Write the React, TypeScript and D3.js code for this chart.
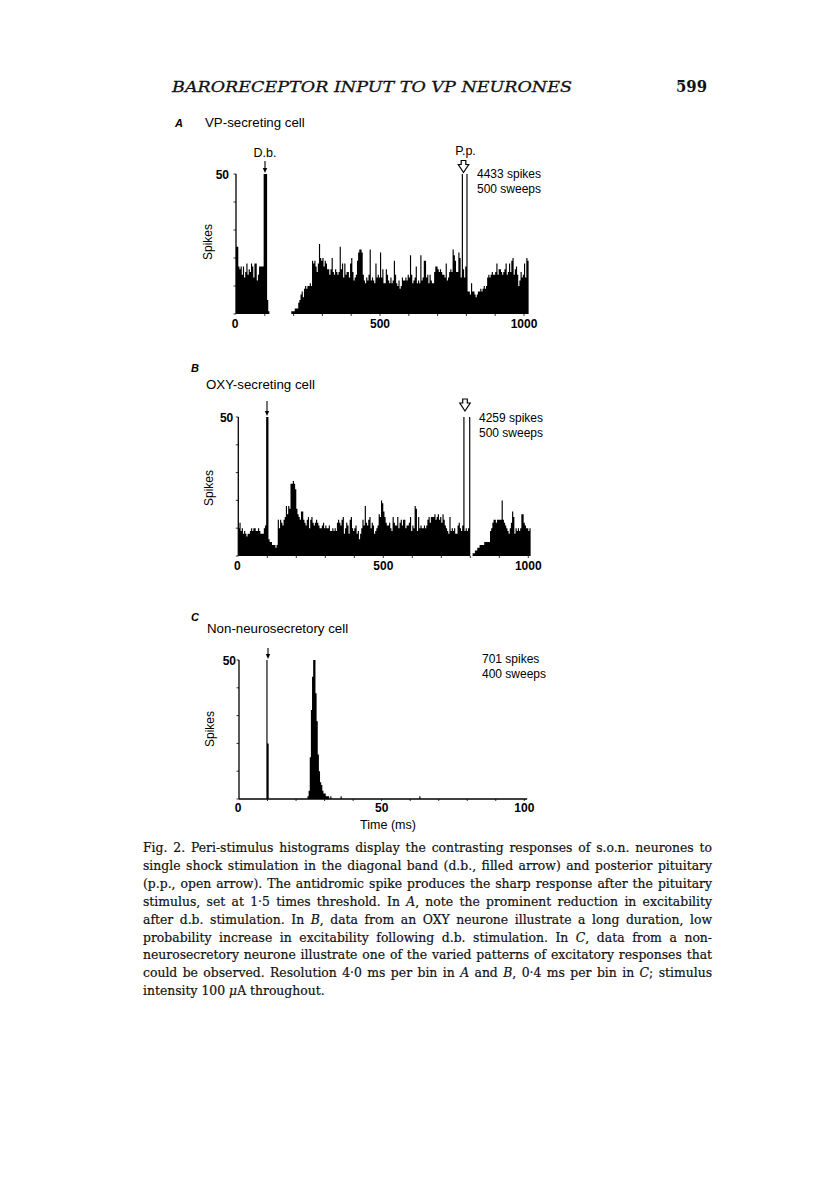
import React, { useLayoutEffect, useRef } from "react";
import * as d3 from "d3";

// ---------------- DATA ----------------
// Panel A: VP-secreting cell, 4 ms bins (spikes per bin)
const vpCounts: number[] = [
  24, 24, 17, 16, 17, 14, 17, 13, 15, 18, 14, 16, 15, 18, 17, 13, 18, 18, 12, 14, 17, 17, 17, 17,
  50, 50, 50, 5, 1,
  0, 0, 0, 0, 0, 0, 0, 0, 0, 0, 0, 0, 0, 0, 0, 0, 0, 0, 0,
  1, 1, 1, 2, 2,
  2, 4, 5,
  7, 8, 6,
  9, 10, 9, 10,
  10, 11, 10, 19,
  18, 19, 17, 15, 18, 25,
  20, 19, 20, 17, 19, 18, 16,
  16, 14, 16, 20, 15, 14, 16,
  15, 14, 15, 24, 16, 18, 13,
  18, 14, 15, 15, 13, 18, 20,
  15, 12, 13, 14, 19, 22, 23,
  23, 22, 14, 12, 11, 13, 12,
  14, 23, 12, 13, 12, 11, 18,
  13, 14, 13, 22, 13, 16, 11,
  11, 16, 14, 12, 11, 13, 11,
  12, 19, 14, 11, 10, 12, 9,
  10, 13, 12, 12, 13, 12, 14,
  13, 21, 14, 11, 12, 13, 17,
  11, 12, 11, 21, 12, 13, 19,
  19, 13, 14, 11, 14, 12, 11,
  11, 15, 17, 17, 16, 15, 16,
  15, 14, 14, 13, 18, 12, 13,
  15, 16, 15, 23, 21, 19,
  15, 15, 22, 20, 13,
  50,
  16, 13, 17,
  50,
  8, 8, 7, 11, 8, 8,
  7, 6, 7, 8, 8, 9, 8,
  9, 10, 9, 10, 13, 14, 13,
  14, 15, 14, 14, 15, 18, 14,
  16, 16, 15, 14, 15, 16, 18,
  14, 15, 18, 15, 19, 20, 14,
  16, 17, 14, 10, 12, 15, 13,
  14, 18, 13, 20, 19,
];

// Panel B: OXY-secreting cell, 4 ms bins
const oxyCounts: number[] = [
  10, 12, 9, 10, 8, 9, 8, 7, 8, 8, 9, 10, 9, 10, 10, 9, 9, 10, 9, 8, 8, 8, 10, 11,
  50, 50,
  6,
  5, 5, 4, 4, 4, 3, 4,
  13, 10, 13, 12, 11, 13, 14,
  18, 15, 18, 17, 26, 26, 27,
  26, 24, 17, 15, 14, 13, 16,
  16, 13, 12, 11, 13, 14, 10,
  13, 14, 12, 11, 12, 13, 12,
  11, 10, 10, 11, 12, 10, 11,
  10, 10, 11, 9, 9, 10, 9,
  10, 9, 12, 13, 12, 11, 13,
  14, 8, 10, 12, 11, 8, 13,
  14, 10, 9, 10, 11, 8, 9,
  6, 8, 10, 13, 11, 18, 12,
  11, 13, 14, 10, 12, 11, 8,
  9, 10, 11, 15, 14, 20, 19,
  16, 14, 12, 11, 11, 12, 10,
  9, 14, 12, 11, 11, 14, 10,
  12, 13, 11, 13, 13, 10, 11,
  11, 12, 14, 9, 11, 10, 18,
  17, 9, 14, 10, 11, 10, 10,
  11, 10, 11, 13, 14, 12, 14,
  14, 14, 15, 13, 14, 15, 13,
  14, 12, 15, 13, 11, 10, 9,
  8, 14, 9, 10, 9, 10, 8,
  8, 11, 12, 10, 9, 11,
  50,
  9, 10, 9, 10,
  50,
  0, 0, 1,
  1, 2, 2, 3, 3, 4, 4,
  4, 4, 5, 5, 5, 5, 5,
  9, 10, 12, 13, 13, 12, 13,
  13, 13, 13, 20, 13, 12, 11,
  10, 9, 8, 10, 12, 16, 14,
  8, 10, 9, 10, 9, 10, 15,
  15, 12, 11, 10, 10, 9, 10,
];

// Panel C: non-neurosecretory cell, 0.4 ms bins (only non-empty bins listed)
const nonNsBinIndex: number[] = [24, 25, 60, 61, 62, 63, 64, 65, 66, 67, 68, 69, 70, 71, 72, 73, 74, 75, 76, 77, 78, 80, 89, 158];
const nonNsCounts: number[] = [50, 20, 1, 3, 15, 32, 44, 50, 50, 38, 28, 16, 10, 6, 5, 3, 2, 2, 1, 1, 1, 1, 1, 1];
const nonNsBinTotal = 250;

const xTickLabelsAB = [0, 500, 1000];
const xTickLabelsC = [0, 50, 100];

const captionLines: string[] = [
  "Fig. 2. Peri-stimulus histograms display the contrasting responses of s.o.n. neurones to",
  "single shock stimulation in the diagonal band (d.b., filled arrow) and posterior pituitary",
  "(p.p., open arrow). The antidromic spike produces the sharp response after the pituitary",
  "stimulus, set at 1·5 times threshold. In *A*, note the prominent reduction in excitability",
  "after d.b. stimulation. In *B*, data from an OXY neurone illustrate a long duration, low",
  "probability increase in excitability following d.b. stimulation. In *C*, data from a non-",
  "neurosecretory neurone illustrate one of the varied patterns of excitatory responses that",
  "could be observed. Resolution 4·0 ms per bin in *A* and *B*, 0·4 ms per bin in *C*; stimulus",
  "intensity 100 *μ*A throughout.",
];

// ---------------- LAYOUT ----------------
const SANS = "'Liberation Sans', Arial, Helvetica, sans-serif";
const SERIF = "'DejaVu Serif', 'Liberation Serif', serif";

type PanelCfg = {
  letter: string;
  letterX: number;
  letterY: number;
  title: string;
  titleX: number;
  titleY: number;
  counts: number[];
  binW: number;
  xMaxDomain: number;
  x0: number;
  x1: number;
  yTop: number;
  yBase: number;
  tickLabels: number[];
  minorStep: number;
  minorMax: number;
  labelY: number;
  fiftyDx: number;
  spikesX: number;
  spikesY: number;
  dbX: number;
  dbTop: number;
  dbLabel: boolean;
  ppX?: number;
  ppTop?: number;
  ppLabel?: boolean;
  stats: [string, string];
  statsX: number;
  statsY: number;
  axisLine?: number;
  timeLabel?: boolean;
};

function buildC(): number[] {
  const arr = new Array(nonNsBinTotal).fill(0);
  nonNsBinIndex.forEach((b, i) => {
    arr[b] = nonNsCounts[i];
  });
  return arr;
}

const panels: PanelCfg[] = [
  {
    letter: "A", letterX: 175, letterY: 127,
    title: "VP-secreting cell", titleX: 205, titleY: 127,
    counts: vpCounts, binW: 4, xMaxDomain: 1000,
    x0: 236, x1: 524, yTop: 174, yBase: 314,
    tickLabels: xTickLabelsAB, minorStep: 100, minorMax: 1000,
    labelY: 328, fiftyDx: 7, spikesX: 212, spikesY: 242,
    dbX: 265, dbTop: 161, dbLabel: true,
    ppX: 463.5, ppTop: 160.5, ppLabel: true,
    stats: ["4433 spikes", "500 sweeps"], statsX: 477, statsY: 178,
  },
  {
    letter: "B", letterX: 191, letterY: 372,
    title: "OXY-secreting cell", titleX: 206, titleY: 389,
    counts: oxyCounts, binW: 4, xMaxDomain: 1000,
    x0: 238.3, x1: 528.3, yTop: 417, yBase: 556,
    tickLabels: xTickLabelsAB, minorStep: 100, minorMax: 1000,
    labelY: 570, fiftyDx: 5, spikesX: 213, spikesY: 488,
    dbX: 267, dbTop: 401, dbLabel: false,
    ppX: 465, ppTop: 399, ppLabel: false,
    stats: ["4259 spikes", "500 sweeps"], statsX: 479, statsY: 422,
  },
  {
    letter: "C", letterX: 191, letterY: 621,
    title: "Non-neurosecretory cell", titleX: 207, titleY: 633,
    counts: buildC(), binW: 0.4, xMaxDomain: 100,
    x0: 239, x1: 524.3, yTop: 660, yBase: 799,
    tickLabels: xTickLabelsC, minorStep: 10, minorMax: 100,
    labelY: 812, fiftyDx: 3, spikesX: 214, spikesY: 729,
    dbX: 268, dbTop: 648, dbLabel: false,
    stats: ["701 spikes", "400 sweeps"], statsX: 482, statsY: 663,
    axisLine: 101, timeLabel: true,
  },
];

function FilledArrow({ x, top, bottom }: { x: number; top: number; bottom: number }) {
  return (
    <g>
      <line x1={x} x2={x} y1={top} y2={bottom - 4} stroke="#000" strokeWidth={1.1} />
      <path d={`M${x - 2.2},${bottom - 5} L${x + 2.2},${bottom - 5} L${x},${bottom} Z`} fill="#000" />
    </g>
  );
}

function OpenArrow({ x, top }: { x: number; top: number }) {
  const d = `M${x - 2.3},${top} L${x + 2.3},${top} L${x + 2.3},${top + 4} L${x + 5.2},${top + 4} L${x},${top + 12} L${x - 5.2},${top + 4} L${x - 2.3},${top + 4} Z`;
  return <path d={d} fill="#fff" stroke="#000" strokeWidth={1.2} strokeLinejoin="miter" />;
}

function Panel({ cfg }: { cfg: PanelCfg }) {
  const x = d3.scaleLinear().domain([0, cfg.xMaxDomain]).range([cfg.x0, cfg.x1]);
  const y = d3.scaleLinear().domain([0, 50]).range([cfg.yBase, cfg.yTop]);
  const pts = cfg.counts.map((v, i) => ({ t: i * cfg.binW, v: Math.min(v, 50) }));
  pts.push({ t: cfg.counts.length * cfg.binW, v: pts[pts.length - 1].v });
  const area = d3
    .area<{ t: number; v: number }>()
    .x((d) => x(d.t))
    .y0(y(0))
    .y1((d) => y(d.v))
    .curve(d3.curveStepAfter);
  const yTicks = y.ticks(5);
  const minor = d3.range(cfg.minorStep, cfg.minorMax + 0.001, cfg.minorStep);

  return (
    <g>
      <text x={cfg.letterX} y={cfg.letterY} fontFamily={SANS} fontStyle="italic" fontWeight="bold" fontSize={11}>
        {cfg.letter}
      </text>
      <text x={cfg.titleX} y={cfg.titleY} fontFamily={SANS} fontSize={13.3}>
        {cfg.title}
      </text>

      {/* histogram */}
      <path d={area(pts) || ""} fill="#000" />

      {/* x axis line for panel C */}
      {cfg.axisLine !== undefined && (
        <line x1={x(0)} x2={x(cfg.axisLine)} y1={y(0)} y2={y(0)} stroke="#000" strokeWidth={1.3} />
      )}
      {/* minor x ticks */}
      {minor.map((m) => (
        <line key={"mx" + m} x1={x(m)} x2={x(m)} y1={y(0)} y2={y(0) + 2} stroke="#000" strokeWidth={0.8} />
      ))}

      {/* y axis */}
      <line x1={x(0)} x2={x(0)} y1={y(50)} y2={y(0)} stroke="#000" strokeWidth={1.3} />
      {yTicks.map((t) => (
        <line key={"yt" + t} x1={x(0) - 2.5} x2={x(0)} y1={y(t)} y2={y(t)} stroke="#000" strokeWidth={0.8} />
      ))}
      <text x={x(0) - cfg.fiftyDx} y={y(50) + 5} textAnchor="end" fontFamily={SANS} fontSize={12} fontWeight="bold">
        50
      </text>

      {/* x tick labels */}
      {cfg.tickLabels.map((t) => (
        <text key={"xl" + t} x={x(t) - (t === 0 ? 1 : 0)} y={cfg.labelY} textAnchor="middle" fontFamily={SANS} fontSize={12} fontWeight="bold">
          {t}
        </text>
      ))}

      {/* y label */}
      <text
        transform={`translate(${cfg.spikesX},${cfg.spikesY}) rotate(-90)`}
        textAnchor="middle"
        fontFamily={SANS}
        fontSize={12}
      >
        Spikes
      </text>

      {cfg.timeLabel && (
        <text x={388} y={829} textAnchor="middle" fontFamily={SANS} fontSize={12.5}>
          Time (ms)
        </text>
      )}

      {/* stimulus markers */}
      {cfg.dbLabel && (
        <text x={cfg.dbX} y={157} textAnchor="middle" fontFamily={SANS} fontSize={12.5}>
          D.b.
        </text>
      )}
      <FilledArrow x={cfg.dbX} top={cfg.dbTop} bottom={y(50) - 1} />
      {cfg.ppX !== undefined && cfg.ppTop !== undefined && (
        <>
          {cfg.ppLabel && (
            <text x={cfg.ppX + 2} y={154.5} textAnchor="middle" fontFamily={SANS} fontSize={12.5}>
              P.p.
            </text>
          )}
          <OpenArrow x={cfg.ppX} top={cfg.ppTop} />
        </>
      )}

      {/* stats */}
      <text x={cfg.statsX} y={cfg.statsY} fontFamily={SANS} fontSize={12}>
        {cfg.stats[0]}
      </text>
      <text x={cfg.statsX} y={cfg.statsY + 14.5} fontFamily={SANS} fontSize={12}>
        {cfg.stats[1]}
      </text>
    </g>
  );
}

function CaptionLine({ line, y, justify }: { line: string; y: number; justify: boolean }) {
  const ref = useRef<SVGTextElement>(null);
  const left = 143;
  const right = 712;
  useLayoutEffect(() => {
    const el = ref.current;
    if (!el) return;
    el.removeAttribute("textLength");
    el.removeAttribute("lengthAdjust");
    el.setAttribute("word-spacing", "0");
    const natural = el.getComputedTextLength();
    const target = right - left;
    if (natural > target) {
      el.setAttribute("textLength", String(target));
      el.setAttribute("lengthAdjust", "spacingAndGlyphs");
      return;
    }
    if (!justify) return;
    const spaces = (el.textContent || "").split(" ").length - 1;
    if (spaces > 0) {
      const ws = (target - natural) / spaces;
      el.setAttribute("word-spacing", String(ws));
    }
  }, [line, justify]);
  const parts = line.split("*");
  return (
    <text ref={ref} x={left} y={y} fontFamily={SERIF} fontSize={12.4} fill="#111" stroke="#111" strokeWidth={0.2}>
      {parts.map((p, i) =>
        i % 2 === 1 ? (
          <tspan key={i} fontStyle="italic">
            {p}
          </tspan>
        ) : (
          <tspan key={i}>{p}</tspan>
        )
      )}
    </text>
  );
}

export default function App() {
  return (
    <svg
      width={816}
      height={1181}
      viewBox="0 0 816 1181"
      style={{ position: "absolute", left: 0, top: 0, background: "#fff" }}
    >
      <rect x={0} y={0} width={816} height={1181} fill="#fff" />
      <text
        x={172}
        y={92}
        fontFamily={SERIF}
        fontStyle="italic"
        fontSize={15}
        textLength={400}
        lengthAdjust="spacingAndGlyphs"
        fill="#111"
        stroke="#111"
        strokeWidth={0.3}
      >
        BARORECEPTOR INPUT TO VP NEURONES
      </text>
      <text x={676} y={92} fontFamily={SERIF} fontWeight="bold" fontSize={16} textLength={31} lengthAdjust="spacingAndGlyphs" fill="#111">
        599
      </text>

      {panels.map((p) => (
        <Panel key={p.letter} cfg={p} />
      ))}

      {captionLines.map((l, i) => (
        <CaptionLine key={i} line={l} y={852 + i * 17.9} justify={i < captionLines.length - 1} />
      ))}
    </svg>
  );
}
